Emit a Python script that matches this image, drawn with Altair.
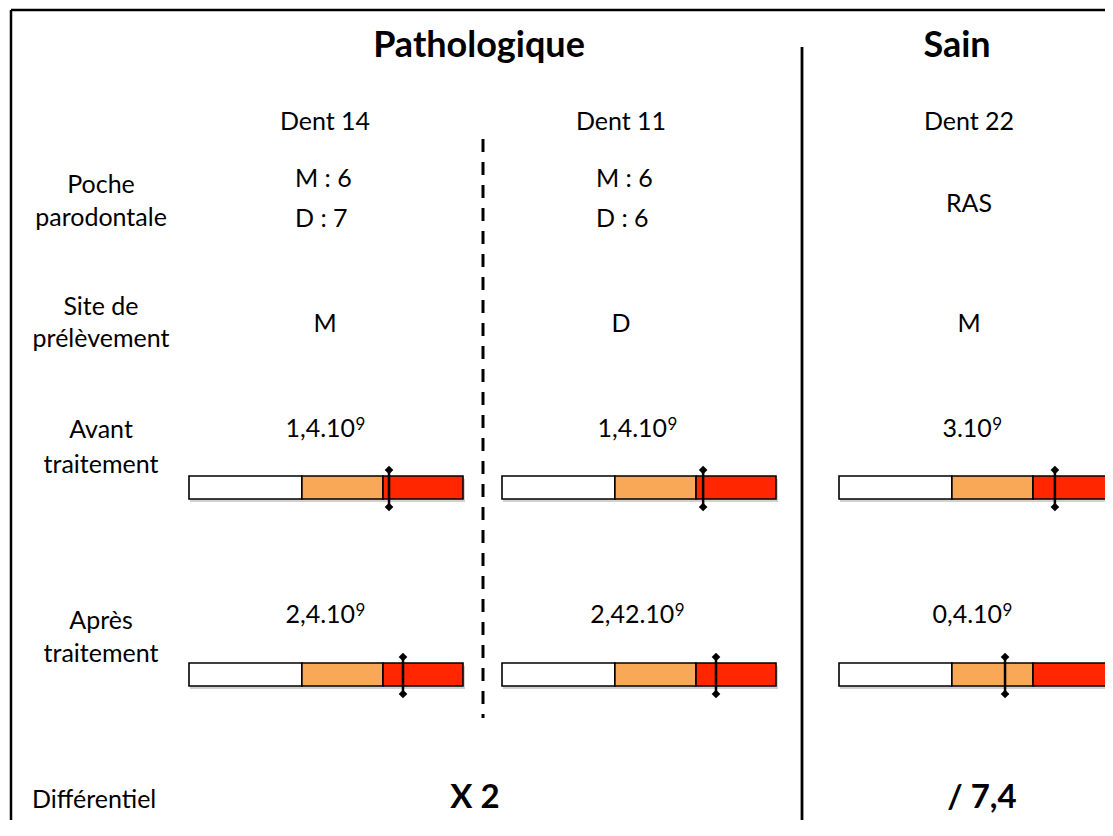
import altair as alt
import pandas as pd

# ---------------- data ----------------
groups = ["Pathologique", "Sain"]
teeth = ["Dent 14", "Dent 11", "Dent 22"]
row_labels = [["Poche", "parodontale"], ["Site de", "prélèvement"],
              ["Avant", "traitement"], ["Après", "traitement"]]
last_row_label = "Différentiel"
poche = [["M : 6", "D : 7"], ["M : 6", "D : 6"], ["RAS"]]
site = ["M", "D", "M"]
avant_mantissa = ["1,4.10", "1,4.10", "3.10"]
apres_mantissa = ["2,4.10", "2,42.10", "0,4.10"]
exponent = "9"
segment_names = ["faible", "moyen", "élevé"]
segment_bounds = [0, 41.2, 70.8, 100]
segment_colors = ["#FFFFFF", "#F9A857", "#FF2600"]
avant_marker = [73.0, 73.4, 78.8]
apres_marker = [78.1, 78.1, 60.6]
differentiel = ["X 2", "/ 7,4"]

# ---------------- layout ----------------
W, H = 1097, 812
FONT = "Lato"
REG = 25
HEAD = 36
BOLD = 33
SUP = 17
group_x = [479, 957]
group_y = 57
header_x = [325, 621, 969]
header_y = 130
value_x = [325, 637, 972]
label_x = 101
poche_left = [295, 596]
poche_y = [187, 227]
ras_y = 212
label_rows_y = [(193, 226), (315, 347), (438, 473), (629, 662)]
site_y = 332
avant_y, apres_y = 437, 623
bar_x0 = [189, 502, 839]
bar_w = 274
bar_h = 23
avant_bar_top, apres_bar_top = 476, 663
diff_y = 808
diff_x = [475, 982]
diff_label_x = 32

# width estimate for superscript placement
def lato_w(s, size):
    w = 0
    for ch in s:
        if ch.isdigit():
            w += 0.58
        elif ch in ",.":
            w += 0.24
        else:
            w += 0.55
    return w * size

# ---------------- tables ----------------
texts_reg_center = []
texts_reg_left = []
texts_reg_right = []
texts_sup = []
texts_head = []
texts_bold = []

for g, x in zip(groups, group_x):
    texts_head.append({"x": x, "y": group_y, "t": g})
for t, x in zip(teeth, header_x):
    texts_reg_center.append({"x": x, "y": header_y, "t": t})
for lines, (y1, y2) in zip(row_labels, label_rows_y):
    texts_reg_center.append({"x": label_x, "y": y1, "t": lines[0]})
    texts_reg_center.append({"x": label_x, "y": y2, "t": lines[1]})
texts_reg_left.append({"x": diff_label_x, "y": diff_y, "t": last_row_label})
for i, p in enumerate(poche):
    if len(p) == 2:
        for s, y in zip(p, poche_y):
            texts_reg_left.append({"x": poche_left[i], "y": y, "t": s})
    else:
        texts_reg_center.append({"x": header_x[i], "y": ras_y, "t": p[0]})
for s, x in zip(site, header_x):
    texts_reg_center.append({"x": x, "y": site_y, "t": s})
for mant_list, y in ((avant_mantissa, avant_y), (apres_mantissa, apres_y)):
    for m, cx in zip(mant_list, value_x):
        bw = lato_w(m, REG)
        sw = lato_w(exponent, SUP)
        join = cx - (bw + sw) / 2 + bw
        texts_reg_right.append({"x": join, "y": y, "t": m})
        texts_sup.append({"x": join + 0.5, "y": y - 7, "t": exponent})
for s, x in zip(differentiel, diff_x):
    texts_bold.append({"x": x, "y": diff_y, "t": s})

rects = []
shadows = []
markers = []
for top, mk in ((avant_bar_top, avant_marker), (apres_bar_top, apres_marker)):
    for i in range(3):
        x0 = bar_x0[i]
        shadows.append({"x": x0 + 1, "x2": x0 + bar_w + 2, "y": top + 3, "y2": top + bar_h + 3})
        for k in range(3):
            rects.append({
                "x": x0 + bar_w * segment_bounds[k] / 100,
                "x2": x0 + bar_w * segment_bounds[k + 1] / 100,
                "y": top, "y2": top + bar_h, "seg": segment_names[k]})
        mx = x0 + bar_w * mk[i] / 100
        markers.append({"x": mx, "y": top - 6, "y2": top + bar_h + 8})

xs = alt.Scale(domain=[8, 8 + W], nice=False, zero=False)
ys = alt.Scale(domain=[8, 8 + H], nice=False, zero=False, reverse=True)
X = lambda f="x": alt.X(f"{f}:Q", scale=xs, axis=None)
Y = lambda f="y": alt.Y(f"{f}:Q", scale=ys, axis=None)


def text_layer(rows, size, weight="normal", align="center"):
    return alt.Chart(pd.DataFrame(rows)).mark_text(
        font=FONT, fontSize=size, fontWeight=weight, align=align,
        baseline="alphabetic", color="black"
    ).encode(x=X(), y=Y(), text="t:N")


shadow_layer = alt.Chart(pd.DataFrame(shadows)).mark_rect(
    color="#000000", opacity=0.18
).encode(x=X(), x2="x2:Q", y=Y(), y2="y2:Q")

bar_layer = alt.Chart(pd.DataFrame(rects)).mark_rect(
    stroke="black", strokeWidth=1.6
).encode(
    x=X(), x2="x2:Q", y=Y(), y2="y2:Q",
    color=alt.Color("seg:N", scale=alt.Scale(domain=segment_names, range=segment_colors), legend=None),
)

mk_df = pd.DataFrame(markers)
marker_rule = alt.Chart(mk_df).mark_rule(color="black", strokeWidth=2.5).encode(
    x=X(), y=Y(), y2="y2:Q")
marker_top = alt.Chart(mk_df).mark_point(shape="diamond", filled=True, color="black", size=75, opacity=1).encode(
    x=X(), y=Y())
marker_bot = alt.Chart(mk_df).mark_point(shape="diamond", filled=True, color="black", size=75, opacity=1).encode(
    x=X(), y=Y("y2"))

solid = alt.Chart(pd.DataFrame([{"x": 802, "y": 47, "y2": 8 + H}])).mark_rule(
    color="black", strokeWidth=2.8).encode(x=X(), y=Y(), y2="y2:Q")
dashed = alt.Chart(pd.DataFrame([{"x": 483, "y": 139, "y2": 718}])).mark_rule(
    color="black", strokeWidth=3, strokeDash=[13, 10]).encode(x=X(), y=Y(), y2="y2:Q")
frame_left = alt.Chart(pd.DataFrame([{"x": 11, "y": 10, "y2": 8 + H}])).mark_rule(
    color="black", strokeWidth=2.5).encode(x=X(), y=Y(), y2="y2:Q")
frame_top = alt.Chart(pd.DataFrame([{"x": 11, "x2": 8 + W, "y": 10}])).mark_rule(
    color="black", strokeWidth=2.5).encode(x=X(), x2="x2:Q", y=Y())

chart = alt.layer(
    frame_left, frame_top, solid, dashed,
    shadow_layer, bar_layer, marker_rule, marker_top, marker_bot,
    text_layer(texts_reg_center, REG),
    text_layer(texts_reg_left, REG, align="left"),
    text_layer(texts_reg_right, REG, align="right"),
    text_layer(texts_sup, SUP, align="left"),
    text_layer(texts_head, HEAD, weight="bold"),
    text_layer(texts_bold, BOLD, weight="bold"),
).properties(
    width=W, height=H, padding=0, autosize=alt.AutoSizeParams(type="none"),
    background="white",
).configure_view(stroke=None)

chart.save("out.html", embed_options={"renderer": "svg", "actions": False})
